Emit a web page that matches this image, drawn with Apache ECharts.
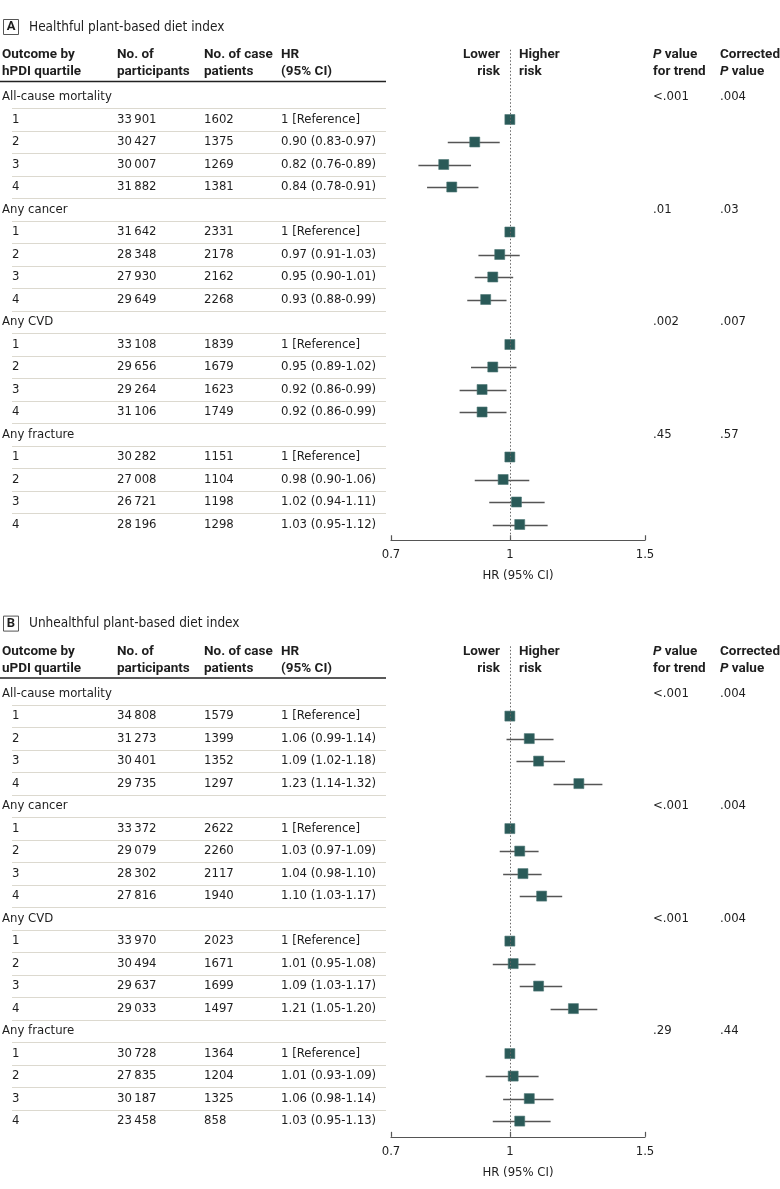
<!DOCTYPE html>
<html><head><meta charset="utf-8">
<script src="https://cdn.jsdelivr.net/npm/echarts@6/dist/echarts.min.js"></script>
<style>html,body{margin:0;padding:0;background:#fff}#c{width:780px;height:1189px}</style>
</head><body><div id="c"></div>
<script>
// ---------- DATA ----------
const outcomes = ["All-cause mortality", "Any cancer", "Any CVD", "Any fracture"];
const quartiles = ["1", "2", "3", "4"];
const tickValues = [0.7, 1, 1.5];
const tickLabels = ["0.7", "1", "1.5"];

// Panel A: healthful plant-based diet index
const titleA = "Healthful plant-based diet index";
const participantsA = [[33901, 30427, 30007, 31882], [31642, 28348, 27930, 29649], [33108, 29656, 29264, 31106], [30282, 27008, 26721, 28196]];
const casesA = [[1602, 1375, 1269, 1381], [2331, 2178, 2162, 2268], [1839, 1679, 1623, 1749], [1151, 1104, 1198, 1298]];
const hrTextA = [
  ["1 [Reference]", "0.90 (0.83-0.97)", "0.82 (0.76-0.89)", "0.84 (0.78-0.91)"],
  ["1 [Reference]", "0.97 (0.91-1.03)", "0.95 (0.90-1.01)", "0.93 (0.88-0.99)"],
  ["1 [Reference]", "0.95 (0.89-1.02)", "0.92 (0.86-0.99)", "0.92 (0.86-0.99)"],
  ["1 [Reference]", "0.98 (0.90-1.06)", "1.02 (0.94-1.11)", "1.03 (0.95-1.12)"]];
const hrA = [[1, 0.90, 0.82, 0.84], [1, 0.97, 0.95, 0.93], [1, 0.95, 0.92, 0.92], [1, 0.98, 1.02, 1.03]];
const loA = [[null, 0.83, 0.76, 0.78], [null, 0.91, 0.90, 0.88], [null, 0.89, 0.86, 0.86], [null, 0.90, 0.94, 0.95]];
const hiA = [[null, 0.97, 0.89, 0.91], [null, 1.03, 1.01, 0.99], [null, 1.02, 0.99, 0.99], [null, 1.06, 1.11, 1.12]];
const pTrendA = ["<.001", ".01", ".002", ".45"];
const pCorrA = [".004", ".03", ".007", ".57"];

// Panel B: unhealthful plant-based diet index
const titleB = "Unhealthful plant-based diet index";
const participantsB = [[34808, 31273, 30401, 29735], [33372, 29079, 28302, 27816], [33970, 30494, 29637, 29033], [30728, 27835, 30187, 23458]];
const casesB = [[1579, 1399, 1352, 1297], [2622, 2260, 2117, 1940], [2023, 1671, 1699, 1497], [1364, 1204, 1325, 858]];
const hrTextB = [
  ["1 [Reference]", "1.06 (0.99-1.14)", "1.09 (1.02-1.18)", "1.23 (1.14-1.32)"],
  ["1 [Reference]", "1.03 (0.97-1.09)", "1.04 (0.98-1.10)", "1.10 (1.03-1.17)"],
  ["1 [Reference]", "1.01 (0.95-1.08)", "1.09 (1.03-1.17)", "1.21 (1.05-1.20)"],
  ["1 [Reference]", "1.01 (0.93-1.09)", "1.06 (0.98-1.14)", "1.03 (0.95-1.13)"]];
const hrB = [[1, 1.06, 1.09, 1.23], [1, 1.03, 1.04, 1.10], [1, 1.01, 1.09, 1.21], [1, 1.01, 1.06, 1.03]];
const loB = [[null, 0.99, 1.02, 1.14], [null, 0.97, 0.98, 1.03], [null, 0.95, 1.03, 1.13], [null, 0.93, 0.98, 0.95]];
const hiB = [[null, 1.14, 1.18, 1.32], [null, 1.09, 1.10, 1.17], [null, 1.08, 1.17, 1.30], [null, 1.09, 1.14, 1.13]];
const pTrendB = ["<.001", "<.001", "<.001", ".29"];
const pCorrB = [".004", ".004", ".004", ".44"];

const headerLine1 = ["Outcome by", "No. of", "No. of case", "HR"];
const headerLine2A = ["hPDI quartile", "participants", "patients", "(95% CI)"];
const headerLine2B = ["uPDI quartile", "participants", "patients", "(95% CI)"];

// ---------- LAYOUT / STYLE ----------
const FONT = '"DejaVu Sans Condensed", "DejaVu Sans", sans-serif';
const HFONT = 'Roboto, "DejaVu Sans Condensed", sans-serif';
const FS = 13;
const HFS = 13.5;
const INK = '#1e1e1e';
const MARK = '#2a5a58';
const OFF = 596.6;
const YMIN = -2.1, YMAX = 19.7;
const COLX = [2, 117, 204, 281];
const QX = 12, PX = 653, PCX = 720;

function fmtN(n) { const s = String(n); return s.length > 4 ? s.slice(0, s.length - 3) + '\u2009' + s.slice(-3) : s; }

function buildRows(part, cases, hrText, hr, lo, hi, pT, pC) {
  const rows = [];
  outcomes.forEach((o, k) => {
    rows.push({ h: true, label: o, p: pT[k], pc: pC[k] });
    quartiles.forEach((q, j) => rows.push({ h: false, label: q, n: part[k][j], c: cases[k][j], t: hrText[k][j], hr: hr[k][j], lo: lo[k][j], hi: hi[k][j] }));
  });
  return rows;
}
const rowsA = buildRows(participantsA, casesA, hrTextA, hrA, loA, hiA, pTrendA, pCorrA);
const rowsB = buildRows(participantsB, casesB, hrTextB, hrB, loB, hiB, pTrendB, pCorrB);

function txt(x, y, text, opt) {
  opt = opt || {};
  const fam = opt.bold ? HFONT : FONT;
  const size = opt.size || (opt.bold ? HFS : FS);
  const w = opt.bold ? 'bold' : 'normal';
  return { type: 'text', x: x, y: y, silent: true, style: {
    text: text, fill: INK, fontFamily: fam, fontSize: size, fontWeight: w,
    align: opt.align || 'left', verticalAlign: 'middle',
    rich: { i: { fontStyle: 'italic', fontFamily: fam, fontSize: size, fontWeight: w, fill: INK } } } };
}

function panelSeries(rows, gi) {
  const tableSeries = {
    type: 'custom', xAxisIndex: gi, yAxisIndex: gi, z: 1, silent: true, clip: false,
    data: rows.map((r, i) => [0, i]), encode: { x: 0, y: 1 },
    renderItem: function (params, api) {
      const r = rows[params.dataIndex];
      const i = api.value(1);
      const y = api.coord([0, i])[1];
      const yl = Math.round(api.coord([0, i + 0.5])[1]) + 0.5;
      const ch = [];
      if (r.h) {
        ch.push(txt(COLX[0], y, r.label));
        ch.push(txt(PX, y, r.p));
        ch.push(txt(PCX, y, r.pc));
      } else {
        ch.push(txt(QX, y, r.label));
        ch.push(txt(COLX[1], y, fmtN(r.n)));
        ch.push(txt(COLX[2], y, String(r.c)));
        ch.push(txt(COLX[3], y, r.t));
      }
      if (params.dataIndex < rows.length - 1) {
        ch.push({ type: 'line', silent: true, shape: { x1: 12, y1: yl, x2: 386, y2: yl }, style: { stroke: '#dcd9cf', lineWidth: 1 } });
      }
      return { type: 'group', children: ch };
    }
  };
  const ciData = [];
  rows.forEach((r, i) => { if (!r.h && r.lo != null) ciData.push([Math.log(r.lo), Math.log(r.hi), i]); });
  const ciSeries = {
    type: 'custom', xAxisIndex: gi, yAxisIndex: gi, z: 2, silent: true,
    data: ciData, encode: { x: [0, 1], y: 2 },
    renderItem: function (params, api) {
      const a = api.coord([api.value(0), api.value(2)]);
      const b = api.coord([api.value(1), api.value(2)]);
      return { type: 'line', shape: { x1: a[0], y1: Math.round(a[1]) + 0.5, x2: b[0], y2: Math.round(b[1]) + 0.5 }, style: { stroke: '#555', lineWidth: 1.3 } };
    }
  };
  const ptData = [];
  rows.forEach((r, i) => { if (!r.h) ptData.push([Math.log(r.hr), i]); });
  const ptSeries = {
    type: 'scatter', xAxisIndex: gi, yAxisIndex: gi, z: 3, silent: true,
    symbol: 'rect', symbolSize: 10, data: ptData,
    itemStyle: { color: MARK, opacity: 1, borderColor: '#4f7776', borderWidth: 0.6 },
    markLine: { symbol: 'none', silent: true, label: { show: false }, animation: false,
      lineStyle: { type: [1.5, 2], color: '#666', width: 1 }, data: [{ xAxis: 0 }] }
  };
  return [ciSeries, ptSeries, tableSeries];
}

function xAxisFor(gi) {
  const lv = tickValues.map(v => Math.log(v));
  return {
    gridIndex: gi, type: 'value', min: Math.log(0.7), max: Math.log(1.5),
    axisLine: { show: true, onZero: false, lineStyle: { color: '#555', width: 1.2 } },
    axisTick: { show: true, inside: true, length: 5, customValues: lv, lineStyle: { color: '#555', width: 1.2 } },
    axisLabel: { show: true, customValues: lv, margin: 8, color: INK, fontFamily: FONT, fontSize: FS,
      formatter: function (v) { for (let k = 0; k < lv.length; k++) if (Math.abs(lv[k] - v) < 1e-6) return tickLabels[k]; return ''; } },
    splitLine: { show: false },
    name: 'HR (95% CI)', nameLocation: 'middle', nameGap: 29,
    nameTextStyle: { color: INK, fontFamily: FONT, fontSize: FS }
  };
}
function yAxisFor(gi) {
  return { gridIndex: gi, type: 'value', inverse: true, min: YMIN, max: YMAX, show: false };
}

function headerGraphics(dy, letter, title, line2) {
  const g = [];
  g.push({ type: 'rect', silent: true, shape: { x: 3.5, y: 19.5 + dy, width: 15, height: 15 }, style: { fill: 'none', stroke: '#555', lineWidth: 1 } });
  g.push(txt(11, 27 + dy, letter, { bold: true, align: 'center', size: 13 }));
  g.push(txt(29, 27 + dy, title, { size: 13.5 }));
  headerLine1.forEach((s, k) => g.push(txt(COLX[k], 55 + dy, s, { bold: true })));
  line2.forEach((s, k) => g.push(txt(COLX[k], 72 + dy, s, { bold: true })));
  g.push(txt(500, 55 + dy, 'Lower', { bold: true, align: 'right' }));
  g.push(txt(500, 72 + dy, 'risk', { bold: true, align: 'right' }));
  g.push(txt(519, 55 + dy, 'Higher', { bold: true }));
  g.push(txt(519, 72 + dy, 'risk', { bold: true }));
  g.push(txt(PX, 55 + dy, '{i|P} value', { bold: true }));
  g.push(txt(PX, 72 + dy, 'for trend', { bold: true }));
  g.push(txt(PCX, 55 + dy, 'Corrected', { bold: true }));
  g.push(txt(PCX, 72 + dy, '{i|P} value', { bold: true }));
  g.push({ type: 'line', silent: true, shape: { x1: 0, y1: 81.5 + dy, x2: 386, y2: 81.5 + dy }, style: { stroke: '#222', lineWidth: 1.5 } });
  return g;
}

const chart = echarts.init(document.getElementById('c'), null, { renderer: 'canvas' });
const gTop = 97 + YMIN * 22.5;
const gH = (YMAX - YMIN) * 22.5;
chart.setOption({
  animation: false,
  backgroundColor: '#fff',
  grid: [
    { left: 391, width: 254, top: gTop, height: gH },
    { left: 391, width: 254, top: gTop + OFF, height: gH }
  ],
  xAxis: [xAxisFor(0), xAxisFor(1)],
  yAxis: [yAxisFor(0), yAxisFor(1)],
  graphic: { elements: headerGraphics(0, 'A', titleA, headerLine2A).concat(headerGraphics(OFF, 'B', titleB, headerLine2B)) },
  series: panelSeries(rowsA, 0).concat(panelSeries(rowsB, 1))
});
</script>
</body></html>
